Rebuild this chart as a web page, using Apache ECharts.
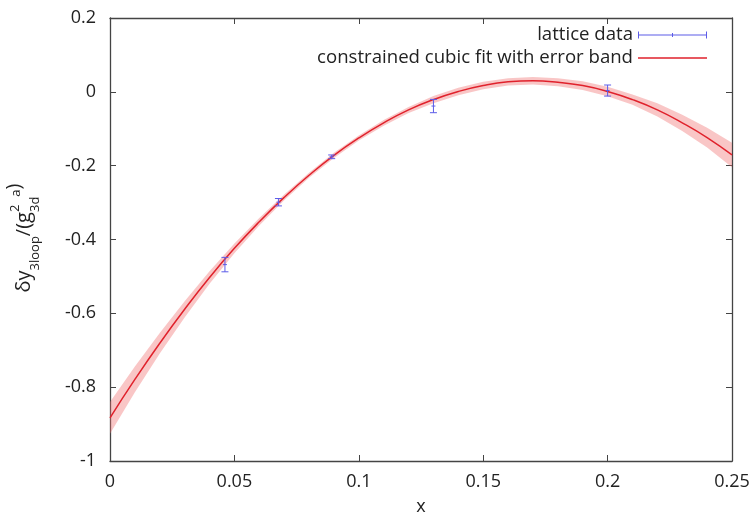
<!DOCTYPE html>
<html>
<head>
<meta charset="utf-8">
<script src="https://cdn.jsdelivr.net/npm/echarts@6/dist/echarts.min.js"></script>
<style>
  html, body { margin: 0; padding: 0; background: #fff; }
  #chart { width: 755px; height: 522px; }
</style>
</head>
<body>
<div id="chart"></div>
<script>
// Lattice measurements with their statistical errors
const latticeX   = [0.0462, 0.0677, 0.0891, 0.130, 0.200];
const latticeY   = [-0.468, -0.299, -0.176, -0.0385, 0.0035];
const latticeErr = [0.0195, 0.010, 0.005, 0.018, 0.015];

// Constrained cubic fit, sampled along x, with its error band
const fitX = [0, 0.01, 0.02, 0.03, 0.04, 0.05, 0.06, 0.07, 0.08, 0.09, 0.10, 0.11, 0.12,
              0.13, 0.14, 0.15, 0.16, 0.17, 0.18, 0.19, 0.20, 0.21, 0.22, 0.23, 0.24, 0.25];
const fitY = [-0.883, -0.779, -0.681, -0.589, -0.503, -0.424, -0.352, -0.286, -0.226, -0.172,
              -0.125, -0.084, -0.049, -0.021, 0.001, 0.017, 0.027, 0.030, 0.026, 0.017,
              0.001, -0.021, -0.049, -0.084, -0.124, -0.171];
const bandLower = [-0.926, -0.814, -0.709, -0.611, -0.520, -0.437, -0.362, -0.294, -0.233, -0.179,
                   -0.132, -0.092, -0.057, -0.031, -0.009, 0.007, 0.017, 0.020, 0.015, 0.005,
                   -0.012, -0.035, -0.067, -0.106, -0.151, -0.204];
const bandUpper = [-0.840, -0.744, -0.653, -0.567, -0.486, -0.411, -0.342, -0.278, -0.219, -0.165,
                   -0.118, -0.076, -0.041, -0.011, 0.011, 0.027, 0.037, 0.040, 0.037, 0.029,
                   0.014, -0.007, -0.031, -0.062, -0.097, -0.138];

// Axis ranges and tick spacing
const xRange = [0, 0.25], xStep = 0.05;
const yRange = [-1, 0.2], yStep = 0.2;

const FONT = '"Open Sans", "DejaVu Sans", sans-serif';
const TEXT = '#222';
const AXIS = '#444';
const BLUE = '#5c5ce8';
const RED = '#e0222c';

const chart = echarts.init(document.getElementById('chart'), null, { renderer: 'canvas' });

// Y-axis title with sub/superscripts, laid out piece by piece
const measureCtx = document.createElement('canvas').getContext('2d');
function textWidth(str, size) {
  measureCtx.font = size + 'px ' + FONT;
  return measureCtx.measureText(str).width;
}
const MAIN = 20, SCRIPT = 13;
const titlePieces = [
  { text: 'δy', size: MAIN, base: 0 },
  { text: '3loop', size: SCRIPT, base: 8 },
  { text: '/(g', size: MAIN, base: 0 },
  { stack: [{ text: '2', size: SCRIPT, base: -12 }, { text: '3d', size: SCRIPT, base: 8 }] },
  { text: 'a', size: SCRIPT, base: -11 },
  { text: ')', size: MAIN, base: -10 }
];
const titleChildren = [];
let cursor = 0;
function addPiece(p, x) {
  titleChildren.push({
    type: 'text',
    x: x,
    y: p.base - 0.32 * p.size,
    style: {
      text: p.text,
      font: p.size + 'px ' + FONT,
      fill: TEXT,
      align: 'left',
      verticalAlign: 'middle'
    }
  });
  return textWidth(p.text, p.size);
}
titlePieces.forEach(function (p) {
  if (p.stack) {
    let w = 0;
    p.stack.forEach(function (s) { w = Math.max(w, addPiece(s, cursor)); });
    cursor += w;
  } else {
    cursor += addPiece(p, cursor);
  }
});
const titleLength = cursor;
const plotMidY = 238;

function axisCommon(extra) {
  return Object.assign({
    type: 'value',
    splitLine: { show: false },
    axisLine: { show: true, onZero: false, lineStyle: { color: AXIS, width: 1.3 } },
    axisTick: { show: true, inside: true, length: 6, lineStyle: { color: AXIS, width: 1 } }
  }, extra);
}

const option = {
  animation: false,
  backgroundColor: '#fff',
  textStyle: { fontFamily: FONT },
  grid: { left: 110, right: 23, top: 18, bottom: 61, containLabel: false },
  xAxis: [
    axisCommon({
      position: 'bottom',
      min: xRange[0], max: xRange[1], interval: xStep,
      name: 'x', nameLocation: 'middle', nameGap: 37,
      nameTextStyle: { fontSize: 18, color: TEXT, fontFamily: FONT },
      axisLabel: { fontSize: 18, color: TEXT, fontFamily: FONT, margin: 12 }
    }),
    axisCommon({
      position: 'top',
      min: xRange[0], max: xRange[1], interval: xStep,
      axisLabel: { show: false }
    })
  ],
  yAxis: [
    axisCommon({
      position: 'left',
      min: yRange[0], max: yRange[1], interval: yStep,
      axisLabel: { fontSize: 18, color: TEXT, fontFamily: FONT, margin: 14 }
    }),
    axisCommon({
      position: 'right',
      min: yRange[0], max: yRange[1], interval: yStep,
      axisLabel: { show: false }
    })
  ],
  legend: {
    orient: 'vertical',
    right: 43,
    top: 20,
    align: 'right',
    itemWidth: 69,
    itemHeight: 10,
    itemGap: 3,
    selectedMode: false,
    textStyle: { fontSize: 18.6, color: TEXT, fontFamily: FONT, lineHeight: 20 },
    data: [
      {
        name: 'lattice data',
        icon: 'path://M0,4.5h69v1h-69z M0,1.5h1v7h-1z M34,3h1v4h-1z M68,1.5h1v7h-1z M0,0h0.01v0.01h-0.01z M69,10h-0.01v-0.01h0.01z',
        itemStyle: { color: BLUE, borderWidth: 0 }
      },
      {
        name: 'constrained cubic fit with error band',
        icon: 'path://M0,4.3h69v1.4h-69z M0,0h0.01v0.01h-0.01z M69,10h-0.01v-0.01h0.01z',
        itemStyle: { color: RED, borderWidth: 0 }
      }
    ]
  },
  graphic: [
    {
      type: 'group',
      x: 31,
      y: plotMidY + titleLength / 2,
      rotation: Math.PI / 2,
      children: titleChildren
    }
  ],
  series: [
    {
      name: 'error band',
      type: 'custom',
      xAxisIndex: 0,
      yAxisIndex: 0,
      z: 1,
      silent: true,
      data: [[fitX[0], fitY[0]]],
      renderItem: function (params, api) {
        const pts = [];
        for (let i = 0; i < fitX.length; i++) pts.push(api.coord([fitX[i], bandUpper[i]]));
        for (let i = fitX.length - 1; i >= 0; i--) pts.push(api.coord([fitX[i], bandLower[i]]));
        return {
          type: 'polygon',
          shape: { points: pts },
          style: { fill: 'rgba(238, 105, 105, 0.38)', stroke: null }
        };
      }
    },
    {
      name: 'constrained cubic fit with error band',
      type: 'line',
      xAxisIndex: 0,
      yAxisIndex: 0,
      z: 2,
      smooth: true,
      symbol: 'none',
      lineStyle: { color: RED, width: 1.5 },
      itemStyle: { color: RED },
      data: fitX.map(function (x, i) { return [x, fitY[i]]; })
    },
    {
      name: 'lattice data',
      type: 'custom',
      xAxisIndex: 0,
      yAxisIndex: 0,
      z: 3,
      itemStyle: { color: BLUE },
      data: latticeX.map(function (x, i) { return [x, latticeY[i], latticeErr[i]]; }),
      renderItem: function (params, api) {
        const x = api.value(0), y = api.value(1), e = api.value(2);
        const top = api.coord([x, y + e]);
        const bot = api.coord([x, y - e]);
        const mid = api.coord([x, y]);
        const cap = 3.5, tick = 2;
        const st = { stroke: BLUE, lineWidth: 1 };
        return {
          type: 'group',
          children: [
            { type: 'line', shape: { x1: top[0], y1: top[1], x2: bot[0], y2: bot[1] }, style: st },
            { type: 'line', shape: { x1: top[0] - cap, y1: top[1], x2: top[0] + cap, y2: top[1] }, style: st },
            { type: 'line', shape: { x1: bot[0] - cap, y1: bot[1], x2: bot[0] + cap, y2: bot[1] }, style: st },
            { type: 'line', shape: { x1: mid[0] - tick, y1: mid[1], x2: mid[0] + tick, y2: mid[1] }, style: st }
          ]
        };
      }
    }
  ]
};

chart.setOption(option);
</script>
</body>
</html>
